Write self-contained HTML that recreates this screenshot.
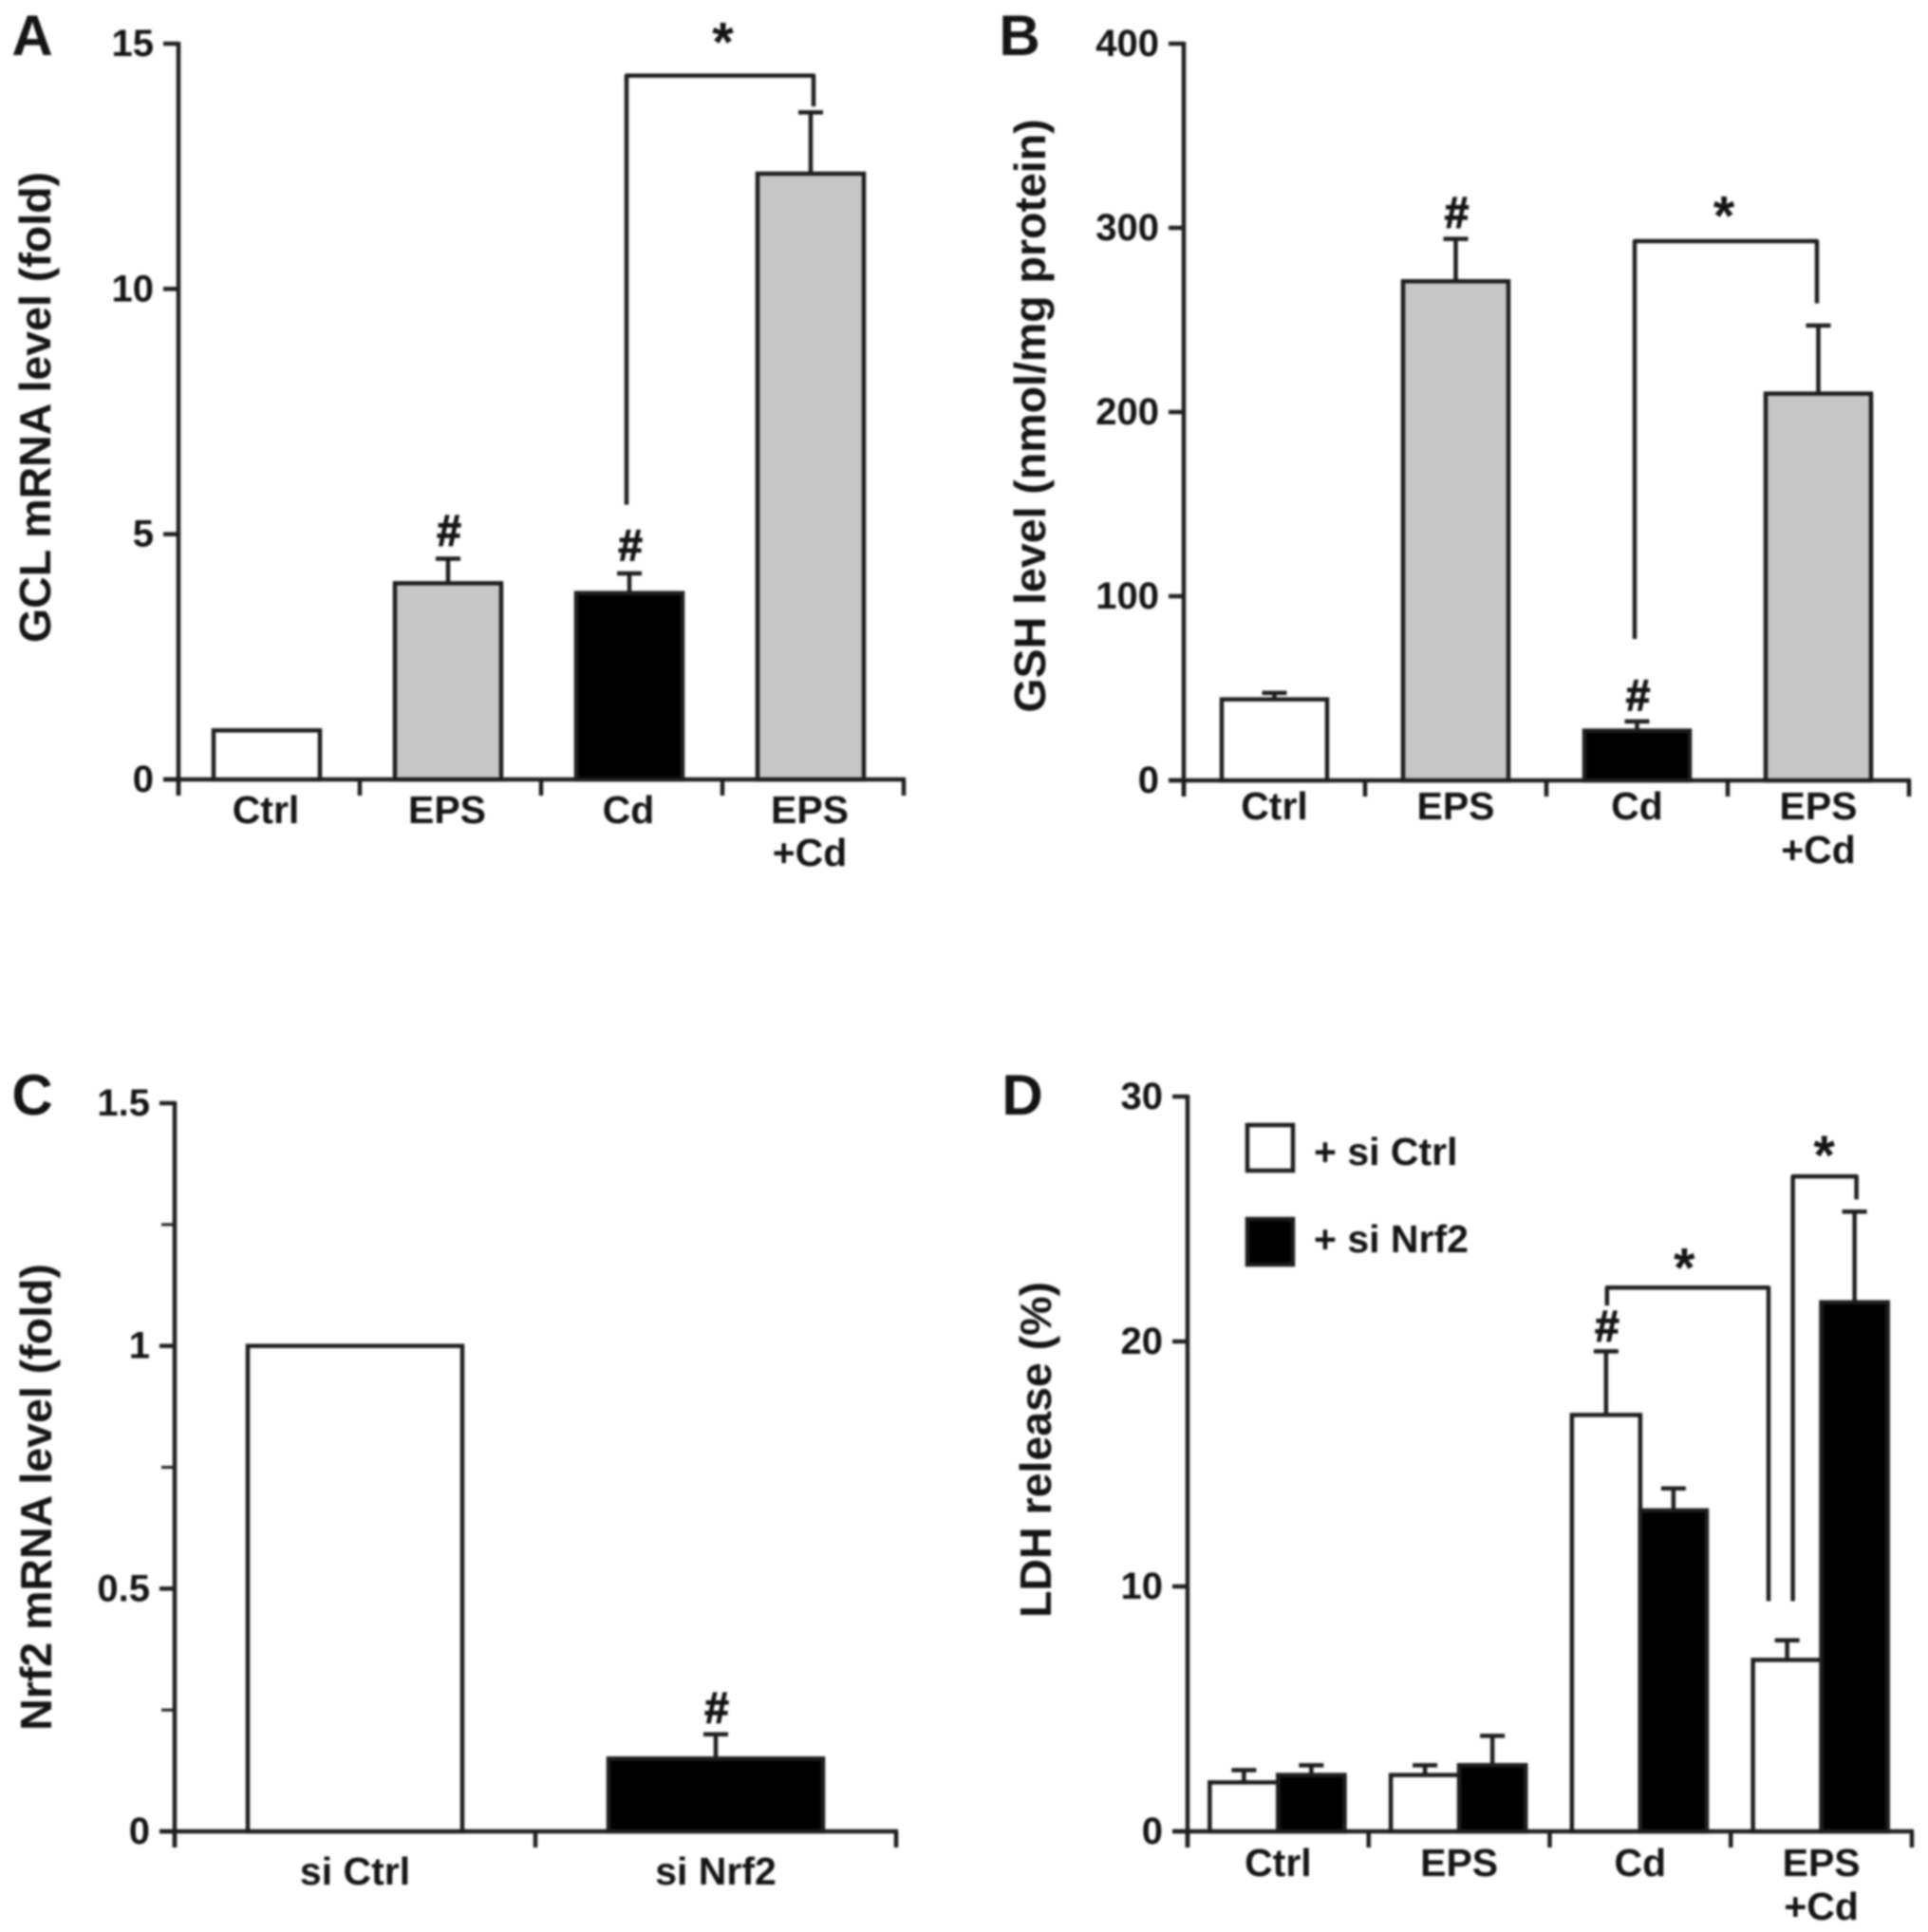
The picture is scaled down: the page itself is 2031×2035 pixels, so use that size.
<!DOCTYPE html>
<html lang="en">
<head>
<meta charset="utf-8">
<title>Four-panel bar chart figure</title>
<style>
html,body{margin:0;padding:0;background:#fff;width:2031px;height:2035px;overflow:hidden}
svg{display:block;filter:blur(1px)}
text{font-family:"Liberation Sans",sans-serif;font-weight:bold;fill:#141414}
</style>
</head>
<body>
<svg id="figure" xmlns="http://www.w3.org/2000/svg" width="2031" height="2035" viewBox="0 0 2031 2035"></svg>
<script>
/* Panel A */
const aCategories = [["Ctrl"], ["EPS"], ["Cd"], ["EPS", "+Cd"]];
const aValues = [1, 4, 3.8, 12.35];
const aErrors = [null, 4.5, 4.2, 13.6];
const aFills = ["#ffffff", "#c6c6c6", "#000000", "#c6c6c6"];
const aTicks = [0, 5, 10, 15];
const aMarks = [false, true, true, false];

/* Panel B */
const bCategories = [["Ctrl"], ["EPS"], ["Cd"], ["EPS", "+Cd"]];
const bValues = [44, 271, 27, 210];
const bErrors = [47.5, 294, 32, 247];
const bFills = ["#ffffff", "#c6c6c6", "#000000", "#c6c6c6"];
const bTicks = [0, 100, 200, 300, 400];
const bMarks = [false, true, true, false];

/* Panel C */
const cCategories = [["si Ctrl"], ["si Nrf2"]];
const cValues = [1, 0.15];
const cErrors = [null, 0.2];
const cFills = ["#ffffff", "#000000"];
const cTicks = [0, 0.5, 1, 1.5];
const cMinorTicks = [0.25, 0.75, 1.25];
const cMarks = [false, true];

/* Panel D */
const dCategories = [["Ctrl"], ["EPS"], ["Cd"], ["EPS", "+Cd"]];
const dSiCtrl = [2, 2.3, 17, 7];
const dSiCtrlErrors = [2.5, 2.7, 19.6, 7.8];
const dSiNrf2 = [2.3, 2.7, 13.1, 21.6];
const dSiNrf2Errors = [2.7, 3.9, 14, 25.3];
const dTicks = [0, 10, 20, 30];
const dMarks = [false, false, true, false];

const svg = document.getElementById('figure');
const NS = 'http://www.w3.org/2000/svg';
const INK = '#1e1e1e';
const LW = 4.5;
const LABEL_SIZE = 41;

function add(parent, tag, attrs, text) {
  const el = document.createElementNS(NS, tag);
  for (const k in attrs) el.setAttribute(k, attrs[k]);
  if (text !== undefined) el.textContent = text;
  parent.appendChild(el);
  return el;
}
function group(name) {
  const g = add(svg, 'g', {});
  
  
  return g;
}
function line(parent, name, x1, y1, x2, y2, w) {
  const el = add(parent, 'line', {x1, y1, x2, y2, stroke: INK, 'stroke-width': w || LW, 'stroke-linecap': 'butt'});
  
  
  return el;
}
function label(parent, name, x, y, size, anchor, str) {
  const el = add(parent, 'text', {x, y, 'font-size': size, 'text-anchor': anchor}, str);
  
  
  return el;
}

function makeAxes(g, p) {
  const y = v => p.base - (v / p.max) * (p.base - p.top);
  const step = (p.right - p.left) / p.categories.length;
  const x = i => p.left + (i + 0.5) * step + (p.shift || 0);

  line(g, 'y-axis', p.left, p.top - 2, p.left, p.base + 17);
  line(g, 'x-axis', p.left - 16, p.base, p.right + 2, p.base);
  p.ticks.forEach(t => {
    line(g, 'y-tick', p.left - 16, y(t), p.left, y(t));
    label(g, 'y-tick-label', p.left - 26, y(t) + 13, 40, 'end', String(t));
  });
  (p.minor || []).forEach(t => line(g, 'y-minor-tick', p.left - 14, y(t), p.left, y(t), 3));
  for (let i = 0; i <= p.categories.length; i++) {
    const tx = p.left + i * step;
    line(g, 'x-tick', tx, p.base, tx, p.base + 17);
  }
  p.categories.forEach((lines, i) => {
    lines.forEach((t, j) => {
      label(g, 'x-category-label', x(i) + (p.labelShift || 0), p.labelY + j * p.lineGap, LABEL_SIZE, 'middle', t);
    });
  });
  const rotated = label(g, 'y-axis-title', 0, 0, p.titleSize, 'middle', p.title);
  rotated.setAttribute('transform', 'translate(' + p.titleX + ' ' + p.titleY + ') rotate(-90)');
  label(g, 'panel-letter', p.letterX, p.letterY, 60, 'middle', p.letter);
  return {x, y};
}

function bar(g, y, base, cx, w, value, err, fill, mark, hashGap) {
  if (err !== null) {
    line(g, 'error-bar-stem', cx, y(err), cx, y(value));
    line(g, 'error-bar-cap', cx - 13, y(err), cx + 13, y(err));
  }
  const r = add(g, 'rect', {x: cx - w / 2, y: y(value), width: w, height: base - y(value), fill, stroke: INK, 'stroke-width': LW});
  
  
  if (mark) {
    const h = label(g, 'significance-hash', cx + 1, y(err) - hashGap, 46, 'middle', '#');
    h.setAttribute('stroke', '#141414');
    h.setAttribute('stroke-width', '1.2');
  }
}

function bracket(g, x1, yEnd1, x2, yEnd2, yTop) {
  const p = add(g, 'path', {d: 'M' + x1 + ' ' + yEnd1 + 'V' + yTop + 'H' + x2 + 'V' + yEnd2, fill: 'none', stroke: INK, 'stroke-width': LW, 'stroke-linejoin': 'round'});
  
  
}
function star(g, cx, cy) {
  label(g, 'significance-star', cx, cy + 25, 58, 'middle', '*');
}

/* Panel A drawing */
const gA = group('panel-a-gcl-mrna');
const axA = makeAxes(gA, {left: 188, right: 952, top: 46, base: 821, max: 15, ticks: aTicks, categories: aCategories,
  shift: -2.5, labelShift: -1, labelY: 867, lineGap: 45, title: 'GCL mRNA level (fold)', titleSize: 46.5, titleX: 53, titleY: 429,
  letter: 'A', letterX: 34, letterY: 58});
aValues.forEach((v, i) => bar(gA, axA.y, 821, axA.x(i), 112, v, aErrors[i], aFills[i], aMarks[i], 14));
bracket(gA, axA.x(2) - 3, axA.y(5.6), axA.x(3) + 3, axA.y(13.72), axA.y(14.35));
star(gA, (axA.x(2) + axA.x(3)) / 2 + 3, axA.y(15.13));

/* Panel B drawing */
const gB = group('panel-b-gsh');
const axB = makeAxes(gB, {left: 1247, right: 2011, top: 46, base: 822, max: 400, ticks: bTicks, categories: bCategories,
  labelShift: 0, labelY: 863, lineGap: 46, title: 'GSH level (nmol/mg protein)', titleSize: 46.5, titleX: 1101, titleY: 438,
  letter: 'B', letterX: 1074, letterY: 58});
bValues.forEach((v, i) => bar(gB, axB.y, 822, axB.x(i), 111, v, bErrors[i], bFills[i], bMarks[i], 12));
bracket(gB, axB.x(2) - 2.5, axB.y(76.8), axB.x(3) - 1.5, axB.y(259), axB.y(292.8));
star(gB, (axB.x(2) + axB.x(3)) / 2 - 4, axB.y(309));

/* Panel C drawing */
const gC = group('panel-c-nrf2-mrna');
const axC = makeAxes(gC, {left: 184, right: 944, top: 1162, base: 1929, max: 1.5, ticks: cTicks, minor: cMinorTicks, categories: cCategories,
  labelY: 1985, lineGap: 46, title: 'Nrf2 mRNA level (fold)', titleSize: 46.5, titleX: 54, titleY: 1577,
  letter: 'C', letterX: 34, letterY: 1174});
cValues.forEach((v, i) => bar(gC, axC.y, 1929, axC.x(i), 226, v, cErrors[i], cFills[i], cMarks[i], 12));

/* Panel D drawing */
const gD = group('panel-d-ldh-release');
const axD = makeAxes(gD, {left: 1251, right: 2014, top: 1155, base: 1929, max: 30, ticks: dTicks, categories: dCategories,
  labelY: 1976, lineGap: 46, title: 'LDH release (%)', titleSize: 46.5, titleX: 1107, titleY: 1527,
  letter: 'D', letterX: 1077, letterY: 1174});
dSiNrf2.forEach((v, i) => bar(gD, axD.y, 1929, axD.x(i) + 35, 70, v, dSiNrf2Errors[i], '#000000', false, 7));
dSiCtrl.forEach((v, i) => bar(gD, axD.y, 1929, axD.x(i) - 36, 72, v, dSiCtrlErrors[i], '#ffffff', dMarks[i], 11));
dSiNrf2.forEach((v, i) => {
  const b = add(gD, 'rect', {x: axD.x(i), y: axD.y(v), width: 70, height: 1929 - axD.y(v), fill: '#000000', stroke: INK, 'stroke-width': LW});
  
  
});
bracket(gD, axD.x(2) - 35, axD.y(21.47), axD.x(3) - 55.6, axD.y(9.4), axD.y(22.2));
star(gD, (axD.x(2) + axD.x(3)) / 2 - 49, axD.y(23.2));
bracket(gD, axD.x(3) - 30, axD.y(9.4), axD.x(3) + 37, axD.y(25.8), axD.y(26.74));
star(gD, axD.x(3) + 3, axD.y(27.8));

/* Legend D */
const gL = group('legend');
const lw = add(gL, 'rect', {x: 1314, y: 1185, width: 48, height: 48, fill: '#ffffff', stroke: INK, 'stroke-width': LW});


label(gL, 'legend-label-si-ctrl', 1384, 1227, 41, 'start', '+ si Ctrl');
const lb = add(gL, 'rect', {x: 1314, y: 1284, width: 48, height: 48, fill: '#000000', stroke: INK, 'stroke-width': LW});


label(gL, 'legend-label-si-nrf2', 1384, 1319, 41, 'start', '+ si Nrf2');
</script>
</body>
</html>
